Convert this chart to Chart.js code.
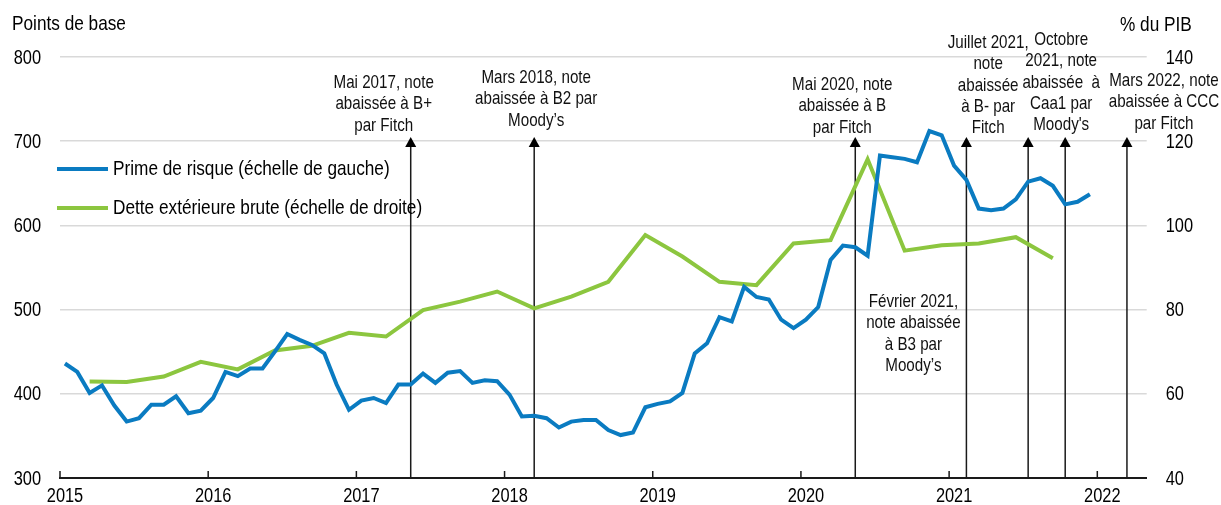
<!DOCTYPE html>
<html>
<head>
<meta charset="utf-8">
<script src="https://cdn.jsdelivr.net/npm/chart.js@4.4.1/dist/chart.umd.min.js"></script>
<style>
    html, body { margin: 0; padding: 0; background: #fff; }
    #wrap { width: 1221px; height: 505px; position: relative; }
</style>
</head>
<body>
<div id="wrap"><canvas id="chart"></canvas></div>
<script>
// Prime de risque (points de base), mensuel
const riskMonths = [
    '2015-01','2015-02','2015-03','2015-04','2015-05','2015-06','2015-07','2015-08','2015-09','2015-10','2015-11','2015-12',
    '2016-01','2016-02','2016-03','2016-04','2016-05','2016-06','2016-07','2016-08','2016-09','2016-10','2016-11','2016-12',
    '2017-01','2017-02','2017-03','2017-04','2017-05','2017-06','2017-07','2017-08','2017-09','2017-10','2017-11','2017-12',
    '2018-01','2018-02','2018-03','2018-04','2018-05','2018-06','2018-07','2018-08','2018-09','2018-10','2018-11','2018-12',
    '2019-01','2019-02','2019-03','2019-04','2019-05','2019-06','2019-07','2019-08','2019-09','2019-10','2019-11','2019-12',
    '2020-01','2020-02','2020-03','2020-04','2020-05','2020-06','2020-07','2020-08','2020-09','2020-10','2020-11','2020-12',
    '2021-01','2021-02','2021-03','2021-04','2021-05','2021-06','2021-07','2021-08','2021-09','2021-10','2021-11','2021-12'
];
const riskValues = [
    436, 426, 401, 410, 386, 367, 371, 387, 387, 397, 377, 380,
    395, 426, 421, 430, 430, 450, 471, 464, 458, 448, 411, 381,
    392, 395, 389, 411, 411, 424, 413, 425, 427, 413, 416, 415,
    399, 373, 374, 371, 360, 367, 369, 369, 357, 351, 354, 384,
    388, 391, 401, 448, 460, 491, 486, 527, 515, 512, 488, 478,
    488, 503, 559, 576, 574, 564, 683, 681, 679, 675, 712, 707,
    671, 654, 620, 618, 620, 631, 652, 656, 647, 625, 628, 637
];

// Dette extérieure brute (% du PIB), trimestriel
const debtQuarters = [
    '2015-03','2015-06','2015-09','2015-12',
    '2016-03','2016-06','2016-09','2016-12',
    '2017-03','2017-06','2017-09','2017-12',
    '2018-03','2018-06','2018-09','2018-12',
    '2019-03','2019-06','2019-09','2019-12',
    '2020-03','2020-06','2020-09','2020-12',
    '2021-03','2021-06','2021-09'
];
const debtValues = [
    62.9, 62.8, 64.1, 67.6,
    65.8, 70.3, 71.4, 74.5,
    73.6, 79.9, 81.9, 84.3,
    80.3, 83.1, 86.6, 97.7,
    92.6, 86.6, 85.8, 95.7,
    96.5, 115.7, 94.0, 95.3,
    95.7, 97.2, 92.2
];

// Abaissements de note
const eventMonths = ['2017-05', '2018-03', '2020-05', '2021-02', '2021-07', '2021-10', '2022-03'];
const eventTexts = [
    ['Mai 2017, note', 'abaissée à B+', 'par Fitch'],
    ['Mars 2018, note', 'abaissée à B2 par', 'Moody’s'],
    ['Mai 2020, note', 'abaissée à B', 'par Fitch'],
    ['Février 2021,', 'note abaissée', 'à B3 par', 'Moody’s'],
    ['Juillet 2021,', 'note', 'abaissée', 'à B- par', 'Fitch'],
    ['Octobre', '2021, note', 'abaissée  à', 'Caa1 par', "Moody's"],
    ['Mars 2022, note', 'abaissée à CCC', 'par Fitch']
];
const arrowTopValue = 705; // échelle de gauche

const yearTicks = [2015, 2016, 2017, 2018, 2019, 2020, 2021, 2022];
const leftTicks = [300, 400, 500, 600, 700, 800];
const rightTicks = [40, 60, 80, 100, 120, 140];

const BLUE = '#0A7BC1';
const GREEN = '#8CC63F';
const FONT = "'Liberation Sans', Arial, sans-serif";
const NARROW = 0.82; // pas de police étroite installée : on compresse
const MID = 0.4; // position dans le mois

function monthPos(label) {
    const [y, m] = label.split('-').map(Number);
    return (y - 2015) * 12 + (m - 1) + MID;
}

function narrowText(ctx, text, x, y) {
    ctx.save();
    ctx.translate(x, y);
    ctx.scale(NARROW, 1);
    ctx.fillText(text, 0, 0);
    ctx.restore();
}

// placement des textes (décalage par rapport à la flèche, y de la première ligne)
const eventTextLayout = [
    { dx: -27, y: 83 },
    { dx: 2, y: 78 },
    { dx: -13, y: 85 },
    { dx: -53, y: 302 },
    { dx: -40, y: 43 },
    { dx: -4, y: 40 },
    { dx: 37, y: 81 }
];

const annotations = {
    id: 'annotations',
    beforeDatasetsDraw(chart) {
        const { ctx, chartArea, scales } = chart;
        const top = scales.y.getPixelForValue(arrowTopValue);
        ctx.save();
        ctx.strokeStyle = '#1a1a1a';
        ctx.fillStyle = '#000';
        ctx.lineWidth = 1.5;
        eventMonths.forEach(m => {
            const x = scales.x.getPixelForValue(monthPos(m));
            ctx.beginPath();
            ctx.moveTo(x, chartArea.bottom);
            ctx.lineTo(x, top + 8);
            ctx.stroke();
            ctx.beginPath();
            ctx.moveTo(x, top);
            ctx.lineTo(x - 5.5, top + 10);
            ctx.lineTo(x + 5.5, top + 10);
            ctx.closePath();
            ctx.fill();
        });
        ctx.restore();
    },
    afterDraw(chart) {
        const { ctx, chartArea, scales } = chart;
        ctx.save();

        // petites graduations des années
        ctx.strokeStyle = '#1a1a1a';
        ctx.lineWidth = 1.5;
        yearTicks.forEach(yr => {
            const x = scales.x.getPixelForValue((yr - 2015) * 12);
            ctx.beginPath();
            ctx.moveTo(x, chartArea.bottom);
            ctx.lineTo(x, chartArea.bottom - 7);
            ctx.stroke();
        });

        // étiquettes des axes
        ctx.fillStyle = '#000';
        ctx.font = `20px ${FONT}`;
        ctx.textBaseline = 'middle';
        ctx.textAlign = 'center';
        yearTicks.forEach(yr => {
            narrowText(ctx, String(yr), scales.x.getPixelForValue((yr - 2015) * 12) + 5, chartArea.bottom + 18);
        });
        ctx.textAlign = 'right';
        leftTicks.forEach(v => narrowText(ctx, String(v), chartArea.left - 19, scales.y.getPixelForValue(v) + 1));
        ctx.textAlign = 'left';
        rightTicks.forEach(v => narrowText(ctx, String(v), chartArea.right + 19, scales.y1.getPixelForValue(v) + 1));

        // titres des axes
        ctx.font = `21px ${FONT}`;
        narrowText(ctx, 'Points de base', 12, 24);
        narrowText(ctx, '% du PIB', 1120, 25);

        // textes des abaissements
        ctx.fillStyle = '#111';
        ctx.font = `18.5px ${FONT}`;
        ctx.textAlign = 'center';
        eventTexts.forEach((lines, i) => {
            const x = scales.x.getPixelForValue(monthPos(eventMonths[i])) + eventTextLayout[i].dx;
            lines.forEach((line, j) => {
                narrowText(ctx, line, x, eventTextLayout[i].y + j * 21.3);
            });
        });

        // légende
        const items = [
            { text: 'Prime de risque (échelle de gauche)', color: BLUE, y: 169 },
            { text: 'Dette extérieure brute (échelle de droite)', color: GREEN, y: 208 }
        ];
        ctx.fillStyle = '#000';
        ctx.font = `21px ${FONT}`;
        ctx.textAlign = 'left';
        ctx.lineWidth = 4;
        items.forEach(it => {
            ctx.strokeStyle = it.color;
            ctx.beginPath();
            ctx.moveTo(57, it.y);
            ctx.lineTo(108, it.y);
            ctx.stroke();
            narrowText(ctx, it.text, 113, it.y);
        });
        ctx.restore();
    }
};

new Chart(document.getElementById('chart'), {
    type: 'line',
    data: {
        datasets: [
            {
                label: 'Prime de risque (échelle de gauche)',
                data: riskMonths.map((m, i) => ({ x: monthPos(m), y: riskValues[i] })),
                borderColor: BLUE,
                borderWidth: 4,
                pointRadius: 0,
                tension: 0,
                yAxisID: 'y'
            },
            {
                label: 'Dette extérieure brute (échelle de droite)',
                data: debtQuarters.map((m, i) => ({ x: monthPos(m), y: debtValues[i] })),
                borderColor: GREEN,
                borderWidth: 4,
                pointRadius: 0,
                tension: 0,
                yAxisID: 'y1'
            }
        ]
    },
    options: {
        responsive: true,
        maintainAspectRatio: false,
        animation: false,
        layout: { padding: { top: 57, left: 0, right: 0, bottom: 0 } },
        plugins: {
            legend: { display: false },
            tooltip: { enabled: false }
        },
        scales: {
            x: {
                type: 'linear',
                min: 0,
                max: 88,
                afterFit: scale => { scale.height = 27; },
                grid: { display: false, drawTicks: false },
                border: { display: true, color: '#1a1a1a', width: 2 },
                ticks: { display: false, stepSize: 12 }
            },
            y: {
                position: 'left',
                min: 300,
                max: 800,
                afterFit: scale => { scale.width = 60; },
                grid: { color: '#d9d9d9', lineWidth: 1.5, drawTicks: false },
                border: { display: false },
                ticks: { display: false, stepSize: 100 }
            },
            y1: {
                position: 'right',
                min: 40,
                max: 140,
                afterFit: scale => { scale.width = 74.3; },
                grid: { display: false, drawTicks: false },
                border: { display: false },
                ticks: { display: false, stepSize: 20 }
            }
        }
    },
    plugins: [annotations]
});
</script>
</body>
</html>
